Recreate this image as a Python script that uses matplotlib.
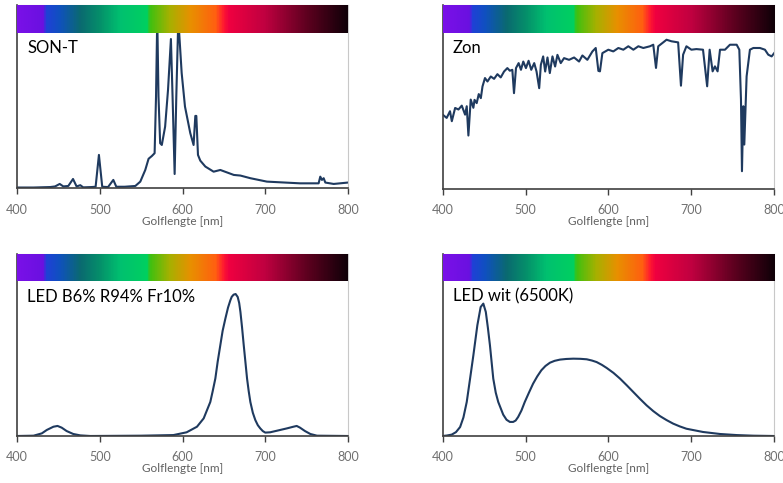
import numpy as np
from matplotlib import pyplot as plt
from matplotlib.colors import LinearSegmentedColormap

# wavelengths (nm) and relative intensity
son_nm = [400, 420, 440, 446, 451.6, 456, 462, 467.7, 472, 476.5, 480, 490, 495, 499, 503,
          510, 516.4, 520, 530, 543, 549, 555, 559, 563, 566.3, 568, 569.5, 571, 573, 575,
          579, 582.5, 586, 588, 590.5, 592.5, 594.5, 596, 599, 603, 609.4, 613.4, 615.5,
          616.7, 618.7, 621.5, 627.6, 637.6, 645.7, 662, 670, 682, 702, 742, 764.5, 766.5,
          768.5, 770.6, 772.6, 782.7, 800]
son_val = [0.005, 0.005, 0.008, 0.012, 0.028, 0.012, 0.015, 0.06, 0.012, 0.02, 0.006, 0.008,
           0.01, 0.215, 0.01, 0.008, 0.054, 0.01, 0.01, 0.015, 0.043, 0.118, 0.19, 0.208,
           0.226, 0.59, 1.1, 0.59, 0.29, 0.279, 0.397, 0.634, 0.961, 0.59, 0.092, 0.59, 1.0,
           1.0, 0.742, 0.526, 0.355, 0.279, 0.466, 0.466, 0.215, 0.178, 0.14, 0.107, 0.118,
           0.086, 0.082, 0.065, 0.043, 0.032, 0.032, 0.075, 0.054, 0.065, 0.037, 0.028, 0.037]

zon_nm = [400, 404.8, 408.8, 411, 415, 419, 423, 427, 429, 431, 433.8, 437, 438.4, 441,
          443.5, 446, 448, 451, 454, 458, 462, 466, 470, 474, 478, 481, 484, 486, 488.4,
          491.6, 494.4, 497.2, 500.4, 503.6, 506.8, 510.4, 513.2, 516.4, 518.4, 521.2, 523.6,
          526.4, 529.2, 532.4, 535.6, 538.4, 542.4, 546.4, 552.4, 558.5, 564.5, 568.5, 574.5,
          580.6, 584.6, 587.8, 589.7, 592.6, 599.8, 605.8, 611.9, 617.9, 623.9, 630,
          636, 642, 650, 654, 657.3, 660, 666, 670, 676, 684, 687.4, 690, 694, 700, 706, 714,
          719, 722, 725.6, 728.4, 731.6, 734.5, 740.5, 746.5, 754.6, 757.8, 759.8, 761,
          762.6, 763.8, 766.6, 770.6, 774.7, 782.7, 788.7, 792.7, 796.8, 800]
zon_val = [0.476, 0.455, 0.498, 0.434, 0.519, 0.509, 0.534, 0.476, 0.53, 0.342, 0.573, 0.52,
           0.571, 0.55, 0.608, 0.582, 0.657, 0.711, 0.689, 0.721, 0.706, 0.736, 0.715, 0.753,
           0.775, 0.758, 0.764, 0.614, 0.775, 0.807, 0.764, 0.817, 0.775, 0.822, 0.764, 0.807,
           0.753, 0.646, 0.796, 0.85, 0.753, 0.843, 0.743, 0.85, 0.785, 0.86, 0.807, 0.839,
           0.828, 0.843, 0.817, 0.856, 0.828, 0.882, 0.904, 0.757, 0.754, 0.871, 0.893,
           0.882, 0.904, 0.893, 0.915, 0.893, 0.915, 0.904, 0.915, 0.925,
           0.776, 0.915, 0.94, 0.957, 0.947, 0.94, 0.662, 0.861, 0.915, 0.893, 0.897, 0.893,
           0.658, 0.893, 0.754, 0.786, 0.754, 0.893, 0.893, 0.925, 0.925, 0.893, 0.573, 0.113,
           0.53, 0.284, 0.722, 0.893, 0.904, 0.904, 0.893, 0.861, 0.85, 0.872]

red_nm = [400, 420, 430, 436, 444, 449, 454, 460, 468, 476.5, 488.6, 550, 589, 605, 617.5,
          625.6, 633.6, 636.5, 639.7, 642.5, 645.7, 648.5, 651.8, 655, 657.8, 659.5, 661.8,
          664.2, 666.7, 668.5, 670, 672, 674, 676, 678, 680, 682, 685, 688, 691, 694, 697,
          700, 706, 714, 726, 734, 738, 742, 748, 754.5, 762.5, 800]
red_val = [0, 0.002, 0.017, 0.039, 0.06, 0.065, 0.054, 0.032, 0.013, 0.004, 0, 0.002, 0.006,
           0.024, 0.06, 0.114, 0.22, 0.29, 0.372, 0.48, 0.587, 0.68, 0.759, 0.83, 0.877, 0.9,
           0.914, 0.918, 0.899, 0.86, 0.802, 0.70, 0.587, 0.48, 0.372, 0.29, 0.22, 0.15,
           0.103, 0.07, 0.049, 0.032, 0.022, 0.024, 0.034, 0.049, 0.06, 0.065, 0.054, 0.032,
           0.013, 0.002, 0]

wit_nm = [400, 405, 410.9, 416, 421, 425, 429, 433, 437, 441.8, 445.8, 449, 452, 454.5, 457,
          461, 464, 467, 473, 477, 481, 485, 488, 491, 495, 499, 504, 509, 514, 519, 524,
          529.4, 535, 541.5, 549, 557.6, 566, 573.7, 580, 585.7, 592, 597.8, 606, 613.9, 622,
          630, 638, 646, 654, 662, 670, 678, 686, 694, 714, 734.5, 754.6, 774.7, 800]
wit_val = [0, 0.003, 0.009, 0.025, 0.058, 0.12, 0.22, 0.37, 0.522, 0.716, 0.834, 0.856, 0.802,
           0.70, 0.586, 0.371, 0.28, 0.22, 0.138, 0.105, 0.091, 0.091, 0.1, 0.123, 0.165,
           0.22, 0.28, 0.338, 0.385, 0.425, 0.453, 0.474, 0.486, 0.494, 0.498, 0.5, 0.499,
           0.496, 0.488, 0.478, 0.46, 0.44, 0.408, 0.371, 0.328, 0.284, 0.24, 0.198, 0.161,
           0.129, 0.103, 0.08, 0.062, 0.047, 0.026, 0.013, 0.006, 0.002, 0]

titles = ["SON-T", "Zon", "LED B6% R94% Fr10%", "LED wit (6500K)"]
ticks = [400, 500, 600, 700, 800]

# colour band stops (nm, colour)
band_nm = [400, 431, 434, 450, 476, 500, 524, 557, 561, 585, 610, 640, 650, 656, 700, 750, 800]
band_col = ["#7a10e8", "#6a10e0", "#2040d8", "#1050c0", "#0a6a70", "#05906a", "#00c070",
            "#00d060", "#40c010", "#a8b000", "#e89000", "#ff6010", "#ff1a30", "#f00040",
            "#c00040", "#600020", "#100008"]

plt.rcParams["font.family"] = ["Lato", "DejaVu Sans"]

cmap = LinearSegmentedColormap.from_list(
    "band", [((n - 400) / 400, c) for n, c in zip(band_nm, band_col)])

fig = plt.figure(figsize=(7.83, 4.83), dpi=100)
W, H = 783, 483
boxes = [(17, 348, 5, 188.3), (442.7, 774.3, 5, 188.8),
         (17, 348, 253.5, 436), (442.7, 774.3, 253.5, 436)]
data = [(son_nm, son_val), (zon_nm, zon_val), (red_nm, red_val), (wit_nm, wit_val)]

for (l, r, t, b), (xs, ys), title in zip(boxes, data, titles):
    ax = fig.add_axes([l / W, 1 - b / H, (r - l) / W, (b - t) / H])
    ax.plot(xs, ys, color="#1f3a5f", lw=1.5, zorder=2)
    grad = np.linspace(0, 1, 400).reshape(1, -1)
    ax.imshow(grad, cmap=cmap, aspect="auto", extent=(400, 800, 1.0, 1.18), zorder=3)
    ax.set_xlim(400, 800)
    ax.set_ylim(0, 1.18)
    ax.set_yticks([])
    ax.set_xticks(ticks)
    ax.tick_params(axis="x", length=4, width=1, color="#404040", labelcolor="#707070",
                   labelsize=9, pad=7)
    ax.set_xlabel("Golflengte [nm]", fontsize=8.5, color="#606060", labelpad=0)
    for s in ["left", "bottom"]:
        ax.spines[s].set_color("#404040")
        ax.spines[s].set_linewidth(1.2)
    for s in ["right", "top"]:
        ax.spines[s].set_color("#c8c8c8")
        ax.spines[s].set_linewidth(0.8)
    # title just under the colour band
    ax.text(10 / (r - l), (b - t - 35) / (b - t), title, transform=ax.transAxes,
            fontsize=12, color="black", va="top", ha="left", zorder=4)

fig.savefig("out.png", dpi=100)
